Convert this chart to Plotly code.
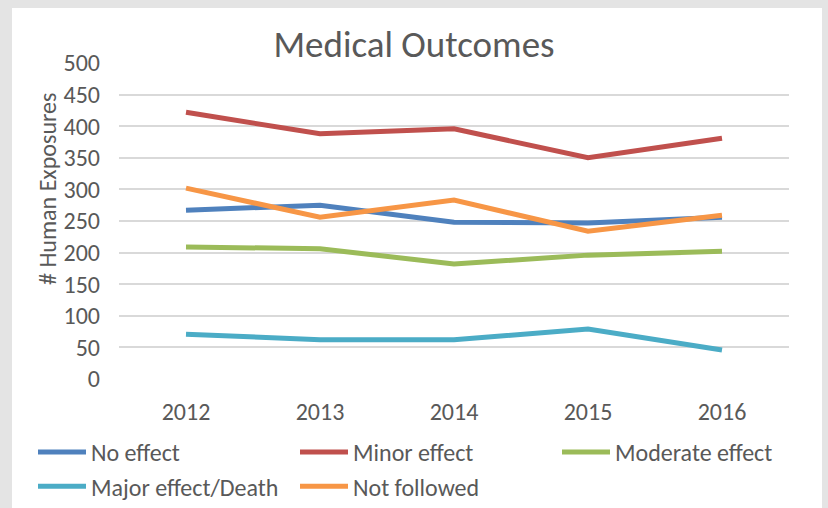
import plotly.graph_objs as go

years = ['2012', '2013', '2014', '2015', '2016']
no_effect = [267, 275, 248, 247, 256]
minor_effect = [422, 388, 396, 350, 381]
moderate_effect = [209, 206, 182, 196, 202]
major_effect = [71, 62, 62, 79, 46]
not_followed = [302, 256, 283, 234, 259]

series_names = ['No effect', 'Minor effect', 'Moderate effect', 'Major effect/Death', 'Not followed']
series_vals = [no_effect, minor_effect, moderate_effect, major_effect, not_followed]
series_cols = ['#4F81BD', '#C0504D', '#9BBB59', '#4BACC6', '#F79646']

W, H = 828, 508
L, R, T, B = 119, 39, 63, 129
pw, ph = W - L - R, H - T - B

fnt = 'Calibri, Carlito, Liberation Sans Narrow, Open Sans, sans-serif'
txt = '#595959'

fig = go.Figure()
for name, vals, col in zip(series_names, series_vals, series_cols):
    fig.add_trace(go.Scatter(x=years, y=vals, name=name, mode='lines',
                             line=dict(color=col, width=5)))

# white card on grey background
fig.add_shape(type='rect', xref='paper', yref='paper', layer='below',
              x0=(12 - L) / pw, x1=(822 - L) / pw,
              y0=(T + ph - H - 5) / ph, y1=(T + ph - 8) / ph,
              fillcolor='white', line=dict(width=0))

# y title sits a bit above the middle like the Excel original
fig.add_annotation(text='# Human Exposures', xref='paper', yref='paper',
                   x=(47 - L) / pw, y=(379 - 189) / ph, xanchor='center', yanchor='middle',
                   textangle=-90, showarrow=False, font=dict(size=24, color=txt, family=fnt))

fig.update_layout(
    width=W, height=H,
    margin=dict(l=L, r=R, t=T, b=B, autoexpand=False),
    paper_bgcolor='#e4e4e4', plot_bgcolor='white',
    font=dict(family=fnt, color=txt, size=24),
    title=dict(text='Medical Outcomes', x=0.5, xanchor='center', y=1 - 44 / H, yanchor='middle',
               font=dict(size=37, color=txt, family=fnt)),
    xaxis=dict(showgrid=False, zeroline=False, showline=False, ticks='', automargin=False,
               tickfont=dict(size=24, color=txt), range=[-0.5, 4.5], ticklabelstandoff=16),
    yaxis=dict(range=[0, 500], dtick=50, showgrid=True, gridcolor='#d9d9d9', gridwidth=1.5,
               zeroline=False, ticks='', automargin=False, ticklabelstandoff=18,
               tickfont=dict(size=24, color=txt)),
    showlegend=True,
    legend=dict(orientation='h', x=(33 - L) / pw, xanchor='left', y=(379 - 430) / ph, yanchor='top',
                entrywidth=199, entrywidthmode='pixels', tracegroupgap=0, itemwidth=48,
                font=dict(size=24, color=txt), bgcolor='rgba(0,0,0,0)'),
)

fig.write_html('out.html', config={'displayModeBar': False},
               post_script="document.body.style.margin='0';")
